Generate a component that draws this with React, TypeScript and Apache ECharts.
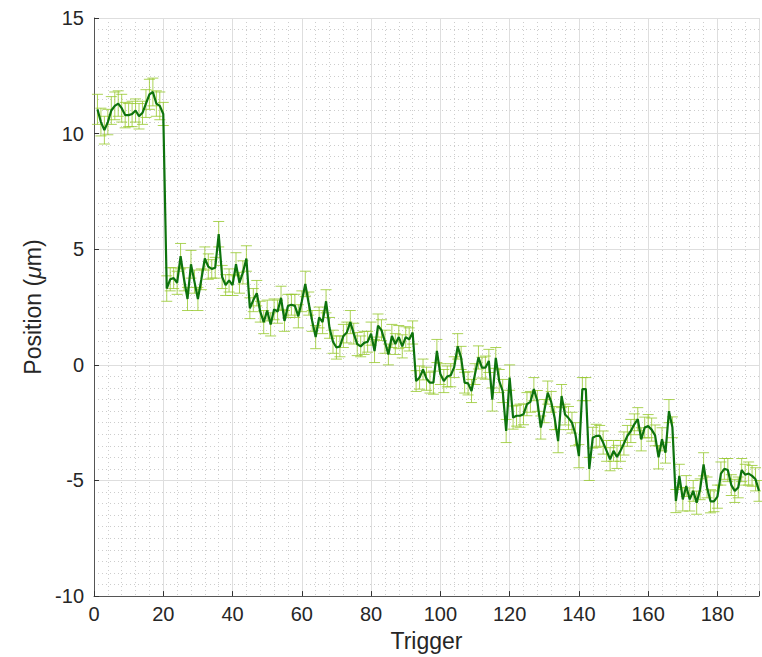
import React, { useEffect, useRef } from "react";
import * as echarts from "echarts";

// Trigger index 1..192
const positions: number[] = [
  11.05, 10.5, 10.15, 10.5, 11.0, 11.2, 11.3, 11.1, 10.8, 10.8,
  10.85, 11.0, 10.75, 10.9, 11.3, 11.7, 11.8, 11.3, 11.2, 10.85,
  3.3, 3.7, 3.75, 3.55, 4.7, 3.7, 2.85, 4.35, 3.6, 2.85,
  3.7, 4.6, 4.25, 4.15, 4.2, 5.65, 3.8, 3.45, 3.65, 3.45,
  4.35, 3.55, 4.0, 4.6, 2.45, 2.8, 3.1, 2.3, 1.85, 2.35,
  1.75, 2.4, 2.3, 2.9, 1.9, 2.55, 2.6, 2.55, 2.1, 2.75,
  3.5, 2.65, 1.9, 1.2, 2.05, 1.85, 2.75, 1.6, 1.0, 0.75,
  0.8, 1.25, 1.4, 1.85, 1.35, 0.9, 0.8, 0.95, 1.0, 1.35,
  0.6, 1.7, 1.5, 1.0, 0.45, 1.25, 0.9, 1.2, 0.8, 1.2,
  1.1, 1.4, -0.7, -0.55, -0.2, -0.6, -0.77, -0.77, 0.6, -0.4,
  -0.7, -0.5, -0.45, -0.1, 0.8, 0.3, -0.77, -0.8, -1.13, -0.4,
  0.32, -0.12, -0.12, 0.17, -1.5, 0.3, -0.7, -1.13, -2.86, -0.55,
  -2.28, -2.2, -2.2, -2.14, -1.7, -1.6, -1.05, -1.56, -2.71, -2.0,
  -1.2, -1.6, -2.3, -3.3, -1.35, -2.15, -2.3, -2.5, -3.0, -3.95,
  -1.05, -1.05, -4.5, -3.15, -3.07, -3.07, -3.36, -3.72, -4.08, -3.72,
  -3.98, -3.72, -3.4, -3.07, -2.86, -2.57, -2.35, -3.22, -2.71, -2.65,
  -2.8, -3.05, -4.0, -3.22, -3.8, -2.0, -2.7, -5.89, -4.8, -5.82,
  -5.24, -5.82, -5.45, -5.96, -5.38, -4.3, -5.3, -5.9, -5.9, -5.7,
  -4.7, -4.5, -4.55, -5.2, -5.45, -5.3, -4.55, -4.75, -4.7, -4.8,
  -4.95, -5.45,
];

const errors: number[] = [
  0.65, 0.6, 0.6, 0.55, 0.6, 0.6, 0.55, 0.6, 0.55, 0.5,
  0.55, 0.5, 0.55, 0.5, 0.6, 0.65, 0.6, 0.55, 0.6, 0.5,
  0.55, 0.5, 0.45, 0.5, 0.55, 0.5, 0.5, 0.6, 0.5, 0.5,
  0.45, 0.5, 0.55, 0.4, 0.45, 0.55, 0.5, 0.45, 0.5, 0.45,
  0.5, 0.45, 0.5, 0.55, 0.45, 0.5, 0.55, 0.45, 0.5, 0.45,
  0.5, 0.45, 0.5, 0.5, 0.45, 0.5, 0.45, 0.5, 0.5, 0.45,
  0.55, 0.5, 0.45, 0.5, 0.45, 0.5, 0.5, 0.45, 0.5, 0.5,
  0.45, 0.5, 0.45, 0.5, 0.45, 0.5, 0.45, 0.5, 0.45, 0.5,
  0.5, 0.5, 0.45, 0.5, 0.45, 0.5, 0.45, 0.5, 0.5, 0.45,
  0.5, 0.5, 0.45, 0.5, 0.45, 0.5, 0.45, 0.5, 0.5, 0.45,
  0.5, 0.45, 0.5, 0.45, 0.55, 0.5, 0.45, 0.5, 0.5, 0.45,
  0.5, 0.45, 0.5, 0.5, 0.5, 0.45, 0.5, 0.5, 0.5, 0.55,
  0.5, 0.45, 0.5, 0.45, 0.5, 0.45, 0.5, 0.45, 0.5, 0.5,
  0.5, 0.45, 0.5, 0.5, 0.5, 0.45, 0.5, 0.45, 0.5, 0.5,
  0.5, 0.5, 0.5, 0.45, 0.5, 0.45, 0.5, 0.45, 0.5, 0.45,
  0.5, 0.45, 0.5, 0.45, 0.5, 0.45, 0.5, 0.5, 0.45, 0.5,
  0.5, 0.45, 0.5, 0.5, 0.45, 0.5, 0.45, 0.5, 0.5, 0.5,
  0.45, 0.5, 0.45, 0.5, 0.45, 0.5, 0.45, 0.5, 0.45, 0.5,
  0.5, 0.45, 0.5, 0.45, 0.5, 0.45, 0.5, 0.45, 0.5, 0.45,
  0.5, 0.45,
];

const X_MIN = 0;
const X_MAX = 192;
const Y_MIN = -10;
const Y_MAX = 15;

const LINE_COLOR = "#0d730d";
const ERR_COLOR = "rgba(150,200,45,0.8)";
const FONT = "'Liberation Sans', Arial, Helvetica, sans-serif";

export default function App() {
  const ref = useRef<HTMLDivElement>(null);

  useEffect(() => {
    if (!ref.current) return;
    const chart = echarts.init(ref.current, undefined, { renderer: "svg" });

    const lineData = positions.map((v, i) => [i + 1, v]);
    const errData = positions.map((v, i) => [i + 1, v - errors[i], v + errors[i]]);

    const minorSplit = {
      show: true,
      lineStyle: { color: "#cdcdcd", width: 1, type: [1, 3] as any },
    };
    const majorSplit = {
      show: true,
      lineStyle: { color: "#dedede", width: 1, type: "solid" as const },
    };

    chart.setOption({
      animation: false,
      backgroundColor: "#ffffff",
      grid: { left: 94, right: 1.4, top: 18, bottom: 60, containLabel: false },
      xAxis: [
        {
          type: "value",
          min: X_MIN,
          max: X_MAX,
          interval: 20,
          z: 1,
          position: "bottom",
          name: "Trigger",
          nameLocation: "middle",
          nameGap: 30,
          nameTextStyle: { fontFamily: FONT, fontSize: 23, color: "#262626" },
          axisLine: { show: true, onZero: false, lineStyle: { color: "#555555", width: 1 } },
          axisTick: { show: true, inside: true, length: 5, lineStyle: { color: "#333333" } },
          axisLabel: {
            fontFamily: FONT,
            fontSize: 20,
            color: "#262626",
            margin: 8,
            formatter: (v: number) => (v % 20 === 0 ? String(v) : ""),
          },
          splitLine: majorSplit,
        },
        {
          type: "value",
          min: X_MIN,
          max: X_MAX,
          interval: 4,
          z: 0,
          position: "top",
          axisLine: { show: false, onZero: false },
          axisTick: { show: false },
          axisLabel: { show: false },
          splitLine: minorSplit,
        },
      ],
      yAxis: [
        {
          type: "value",
          min: Y_MIN,
          max: Y_MAX,
          interval: 5,
          z: 1,
          position: "left",
          name: "Position ({it|μ}m)",
          nameLocation: "middle",
          nameGap: 47,
          nameTextStyle: {
            fontFamily: FONT,
            fontSize: 23,
            color: "#262626",
            rich: {
              it: { fontFamily: FONT, fontSize: 23, color: "#262626", fontStyle: "italic" },
            },
          },
          axisLine: { show: true, onZero: false, lineStyle: { color: "#555555", width: 1 } },
          axisTick: { show: true, inside: true, length: 5, lineStyle: { color: "#333333" } },
          axisLabel: { fontFamily: FONT, fontSize: 20, color: "#262626", margin: 10 },
          splitLine: majorSplit,
        },
        {
          type: "value",
          min: Y_MIN,
          max: Y_MAX,
          interval: 0.5,
          z: 0,
          position: "right",
          axisLine: { show: false, onZero: false },
          axisTick: { show: false },
          axisLabel: { show: false },
          splitLine: minorSplit,
        },
      ],
      series: [
        {
          type: "custom",
          xAxisIndex: 0,
          yAxisIndex: 0,
          z: 3,
          clip: false,
          encode: { x: 0, y: [1, 2] },
          data: errData,
          renderItem: (params: any, api: any) => {
            const x = api.value(0);
            const lo = api.coord([x, api.value(1)]);
            const hi = api.coord([x, api.value(2)]);
            const w = 5.5;
            const style = { stroke: ERR_COLOR, lineWidth: 1, fill: "none" };
            return {
              type: "group",
              children: [
                { type: "line", shape: { x1: lo[0], y1: lo[1], x2: hi[0], y2: hi[1] }, style },
                { type: "line", shape: { x1: lo[0] - w, y1: lo[1], x2: lo[0] + w, y2: lo[1] }, style },
                { type: "line", shape: { x1: hi[0] - w, y1: hi[1], x2: hi[0] + w, y2: hi[1] }, style },
              ],
            };
          },
        },
        {
          type: "line",
          xAxisIndex: 0,
          yAxisIndex: 0,
          z: 4,
          data: lineData,
          showSymbol: false,
          symbol: "none",
          smooth: false,
          lineStyle: { color: LINE_COLOR, width: 2.2 },
        },
      ],
    });

    return () => {
      chart.dispose();
    };
  }, []);

  return (
    <div
      ref={ref}
      style={{ position: "absolute", left: 0, top: 0, width: 762, height: 657, background: "#fff" }}
    />
  );
}
